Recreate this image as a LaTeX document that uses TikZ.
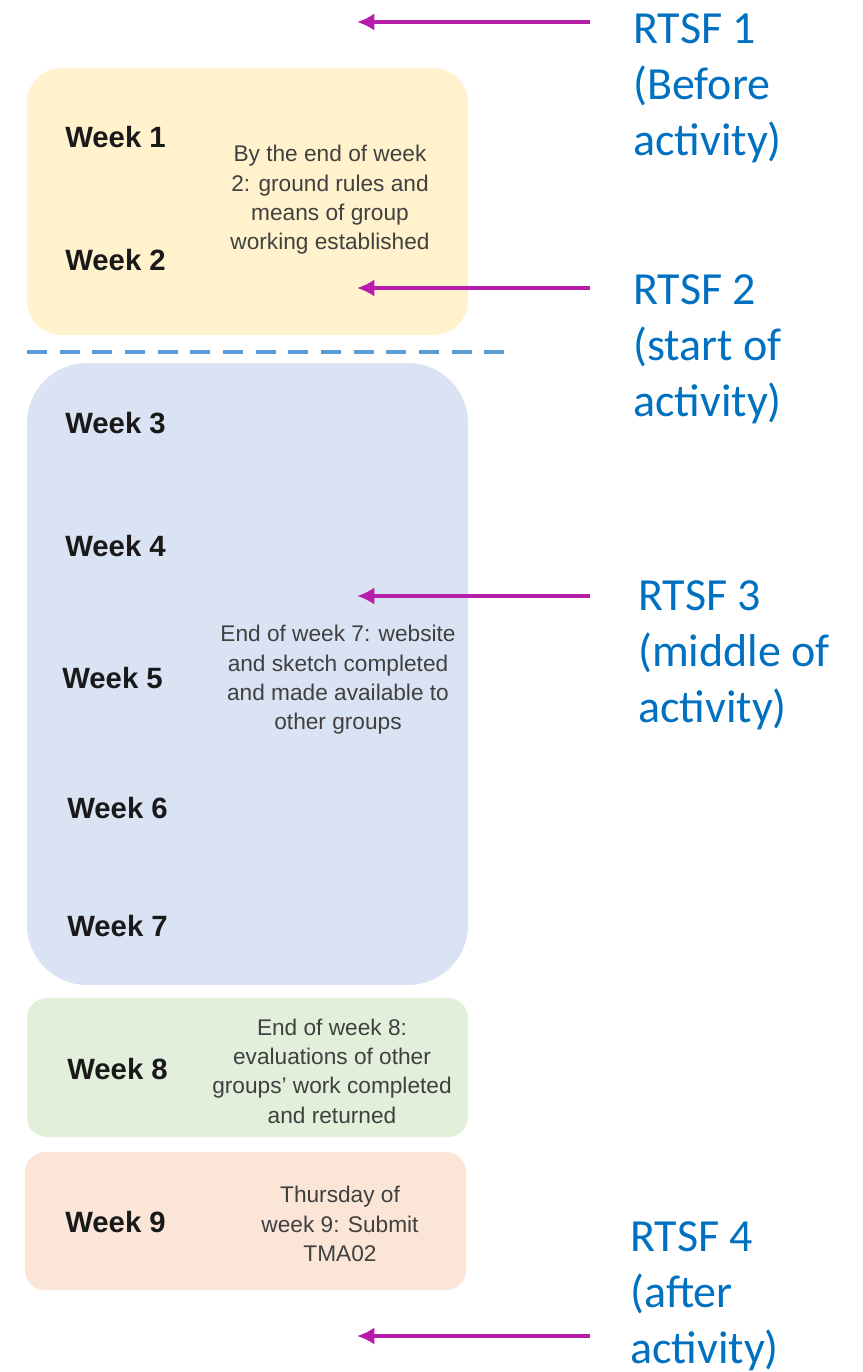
\documentclass[tikz,border=0pt]{standalone}
\usepackage{fontspec}
\setmainfont{Liberation Sans}
\newfontfamily\calibri{Carlito}
\usetikzlibrary{arrows.meta}
\definecolor{tsfpink}{RGB}{182,30,170}
\definecolor{rtsfblue}{RGB}{0,112,192}
\definecolor{boxyellow}{RGB}{255,242,204}
\definecolor{boxblue}{RGB}{218,227,243}
\definecolor{boxgreen}{RGB}{226,239,218}
\definecolor{boxorange}{RGB}{251,229,214}
\definecolor{splitblue}{RGB}{91,155,213}
\begin{document}
\begin{tikzpicture}[x=0.75pt,y=-0.75pt,
week/.style={
% Week labels on the left:
anchor=west,
inner sep=0pt,
font=\fontsize{22}{26}\selectfont\bfseries,
text=black!90
},
note/.style={
align=center,
inner sep=0pt,
font=\fontsize{17}{22}\selectfont,
text=black!75
},
rtsf/.style={
anchor=west,
align=left,
inner sep=0pt,
font=\calibri\fontsize{34.5}{42}\selectfont,
text=rtsfblue
},
tsf arrow/.style={-{Latex[length=13pt,width=13pt]},line width=3pt,draw=tsfpink}
]
\useasboundingbox (0,0) rectangle (863,1372);
% Boxes:
\fill[boxyellow,rounded corners=26pt] (27,68) rectangle (468,335);
\fill[boxblue,rounded corners=45pt] (27,363) rectangle (468,985);
\fill[boxgreen,rounded corners=15pt] (27,998) rectangle (468,1137);
\fill[boxorange,rounded corners=15pt] (25,1152) rectangle (466,1290);
\draw[splitblue,line width=3pt,dash pattern=on 15pt off 9.5pt] (27,352) -- (505,352);

% Weeks:
\node (w1) [week] at (65,137) {Week 1};
\node (w2) [week] at (65,260) {Week 2};
\node (w3) [week] at (65,423) {Week 3};
\node (w4) [week] at (65,546) {Week 4};
\node (w5) [week] at (62,678) {Week 5};
\node (w6) [week] at (67,808) {Week 6};
\node (w7) [week] at (67,926) {Week 7};
\node (w8) [week] at (67,1069) {Week 8};
\node (w9) [week] at (65,1222) {Week 9};

% Deadlines:
\node (n2) [note] at (330,200) {By the end of week\\2: ground rules and\\means of group\\working established};
\node (n7) [note] at (338,680) {End of week 7: website\\and sketch completed\\and made available to\\other groups};
\node (n8) [note] at (332,1071) {End of week 8:\\evaluations of other\\groups' work completed\\and returned};
\node (n9) [note] at (340,1224) {Thursday of\\week 9: Submit\\TMA02};

% Feedback points:
\node (r1) [rtsf] at (633,88) {RTSF 1\\(Before\\activity)};
\node (r2) [rtsf] at (633,349) {RTSF 2\\(start of\\activity)};
\node (r3) [rtsf] at (638,655) {RTSF 3\\(middle of\\activity)};
\node (r4) [rtsf] at (630,1296) {RTSF 4\\(after\\activity)};

\coordinate (s1) at (590,22);   \coordinate (e1) at (357,22);
\coordinate (s2) at (590,288);  \coordinate (e2) at (357,288);
\coordinate (s3) at (590,596);  \coordinate (e3) at (357,596);
\coordinate (s4) at (590,1336); \coordinate (e4) at (357,1336);
\path (s1) edge[tsf arrow] (e1) (s2) edge[tsf arrow] (e2) (s3) edge[tsf arrow] (e3) (s4) edge[tsf arrow] (e4);
\end{tikzpicture}
\end{document}
